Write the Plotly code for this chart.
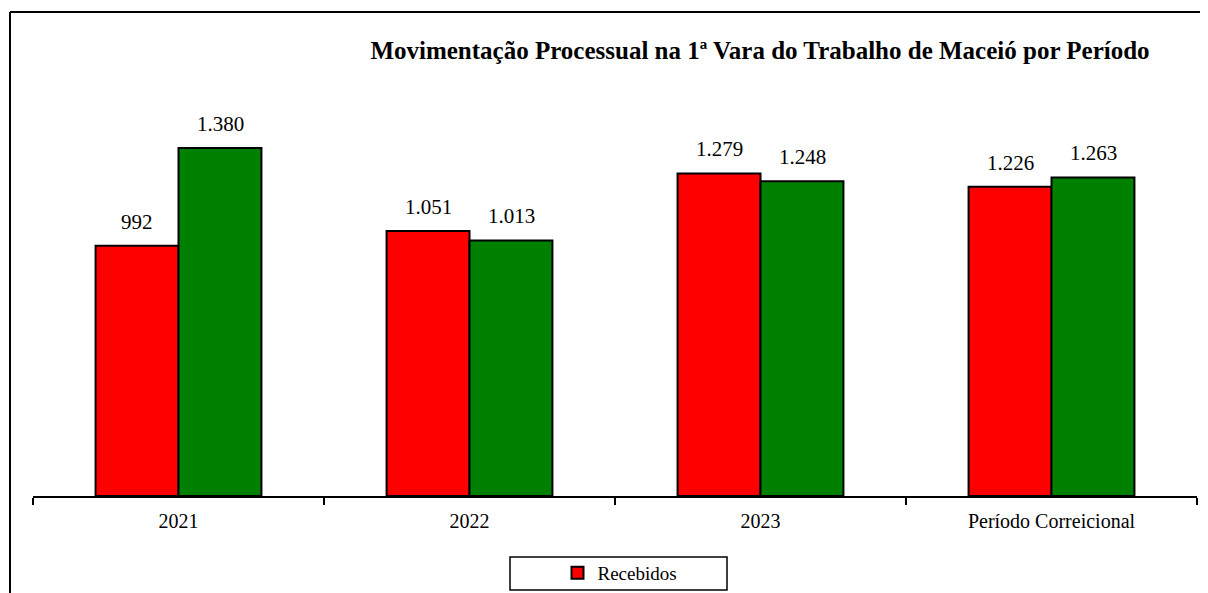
import plotly.graph_objects as go

categories = ["2021", "2022", "2023", "Período Correicional"]
recebidos = [992, 1051, 1279, 1226]
solucionados = [1380, 1013, 1248, 1263]
title_text = "Movimentação Processual na 1ª Vara do Trabalho de Maceió por Período"

FONT = "Liberation Serif"

def fmt(v):
    return f"{v:,}".replace(",", ".")

# page body has an 8px margin, so the figure is offset by 8px
OFF = 8
W, H = 1200, 585
L, R, T, B = 25, 11, 92, 97
plot_w = W - L - R
plot_h = H - T - B
YMAX = 1570

fig = go.Figure()
fig.add_trace(go.Bar(
    x=categories, y=recebidos, name="Recebidos",
    marker=dict(color="#FF0000", line=dict(color="black", width=2)),
    showlegend=True,
))
fig.add_trace(go.Bar(
    x=categories, y=solucionados, name="Solucionados",
    marker=dict(color="#008000", line=dict(color="black", width=2)),
    showlegend=False,
))

annotations = []
for i, v in enumerate(recebidos):
    annotations.append(dict(x=i, y=v, xref="x", yref="y", text=fmt(v), showarrow=False,
                            xshift=-41.5, yanchor="bottom", yshift=10,
                            font=dict(family=FONT, size=21, color="black")))
for i, v in enumerate(solucionados):
    annotations.append(dict(x=i, y=v, xref="x", yref="y", text=fmt(v), showarrow=False,
                            xshift=41.5, yanchor="bottom", yshift=10,
                            font=dict(family=FONT, size=21, color="black")))

def px2x(px):
    return (px - OFF - L) / plot_w

def py2y(py):
    return (H - B - (py - OFF)) / plot_h

shapes = [
    dict(type="line", xref="paper", yref="paper", x0=px2x(10), x1=px2x(1215), y0=py2y(12), y1=py2y(12),
         line=dict(color="black", width=2)),
    dict(type="line", xref="paper", yref="paper", x0=px2x(10), x1=px2x(10), y0=py2y(12), y1=py2y(600),
         line=dict(color="black", width=2)),
    dict(type="rect", xref="paper", yref="paper", x0=px2x(510), x1=px2x(727), y0=py2y(557), y1=py2y(590),
         line=dict(color="black", width=1.5), fillcolor="rgba(0,0,0,0)"),
]

fig.update_layout(
    width=W, height=H,
    margin=dict(l=L, r=R, t=T, b=B, autoexpand=False),
    plot_bgcolor="white", paper_bgcolor="white",
    barmode="group", bargap=0.43, bargroupgap=0,
    font=dict(family=FONT, color="black"),
    title=dict(text=f"<b>{title_text}</b>", x=(760 - OFF) / W, xanchor="center", xref="container",
               y=1 - (50 - OFF) / H, yanchor="middle", yref="container",
               font=dict(family=FONT, size=25, color="black")),
    xaxis=dict(type="category", range=[-0.5, len(categories) - 0.5], showline=True,
               linecolor="black", linewidth=2,
               ticks="outside", tickson="boundaries", ticklen=7, tickcolor="black", tickwidth=2,
               ticklabelstandoff=6,
               tickangle=0, tickfont=dict(family=FONT, size=20, color="black"), showgrid=False),
    yaxis=dict(range=[0, YMAX], visible=False, showgrid=False),
    legend=dict(x=px2x(620), y=py2y(573), xanchor="center", yanchor="middle",
                font=dict(family=FONT, size=19, color="black"), bgcolor="rgba(0,0,0,0)",
                itemwidth=30),
    annotations=annotations,
    shapes=shapes,
)

fig.write_html("out.html")
